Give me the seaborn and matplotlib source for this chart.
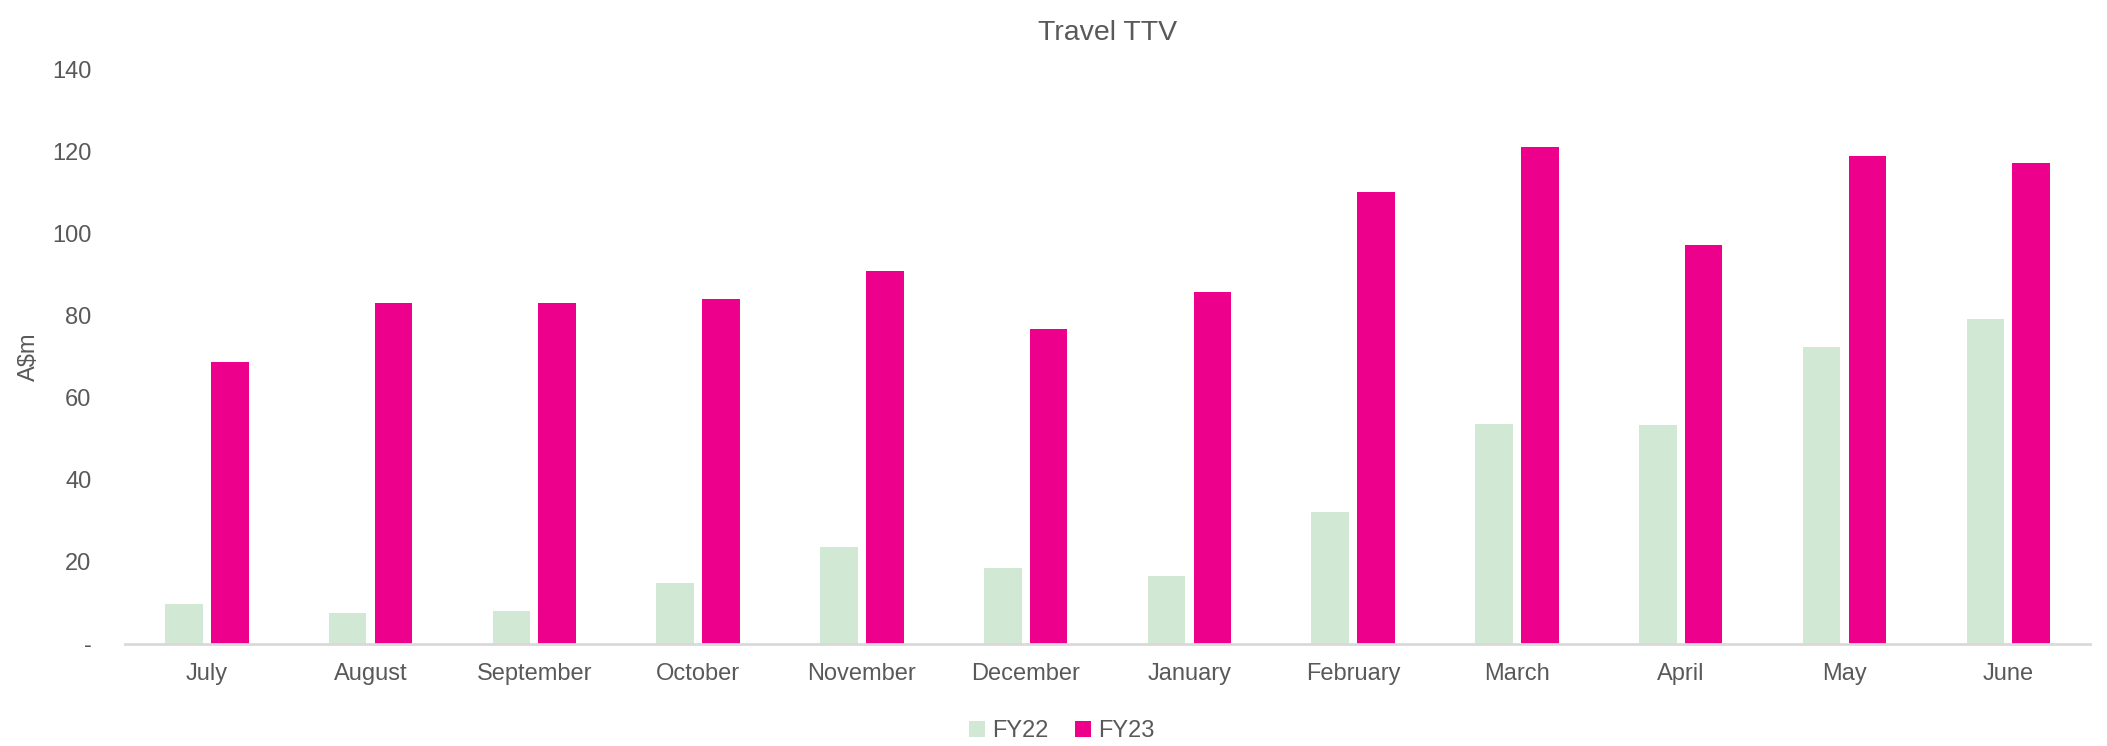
import matplotlib
matplotlib.use("Agg")
import matplotlib.pyplot as plt
import seaborn as sns
import pandas as pd

# data (A$m)
months = ["July", "August", "September", "October", "November", "December",
          "January", "February", "March", "April", "May", "June"]
fy22 = [9.7, 7.6, 8.0, 14.9, 23.5, 18.5, 16.6, 32.0, 53.6, 53.3, 72.3, 79.2]
fy23 = [68.6, 83.0, 83.1, 84.1, 90.7, 76.6, 85.8, 110.0, 120.9, 97.2, 118.8, 117.0]
series = ["FY22", "FY23"]
colors = ["#d1e8d5", "#ec008c"]

df = pd.DataFrame({
    "month": months * 2,
    "value": fy22 + fy23,
    "series": [series[0]] * len(months) + [series[1]] * len(months),
})

sns.set_theme(style="white")
plt.rcParams["font.family"] = ["Liberation Sans", "DejaVu Sans"]
text_col = "#595959"

fig = plt.figure(figsize=(21.07, 7.46), dpi=100)
ax = fig.add_axes([0.0593, 0.137, 0.9327, 0.7705])

sns.barplot(data=df, x="month", y="value", hue="series", order=months,
            hue_order=series, palette=colors, width=0.56, gap=0.18,
            saturation=1, edgecolor="none", ax=ax)

ax.set_ylim(0, 140)
ax.set_xlim(-0.5, 11.5)
ax.set_yticks(range(0, 141, 20))
ax.set_yticklabels(["-"] + [str(v) for v in range(20, 141, 20)])
ax.tick_params(axis="both", labelsize=17, colors=text_col, length=0)
ax.tick_params(axis="x", pad=14)
ax.tick_params(axis="y", pad=24)
ax.set_xlabel("")
ax.set_ylabel("A$m", fontsize=17, color=text_col, labelpad=9)
ax.set_title("Travel TTV", fontsize=20.5, color=text_col, pad=0, y=1.05)

for side in ["top", "right", "left"]:
    ax.spines[side].set_visible(False)
ax.spines["bottom"].set_color("#d9d9d9")
ax.spines["bottom"].set_linewidth(2)

ax.legend(loc="center", bbox_to_anchor=(0.504, 0.02), bbox_transform=fig.transFigure,
          ncol=2, frameon=False, fontsize=17, handlelength=0.7, handleheight=0.7,
          handletextpad=0.3, columnspacing=1.1, labelcolor=text_col)

fig.savefig("out.png", dpi=100)
